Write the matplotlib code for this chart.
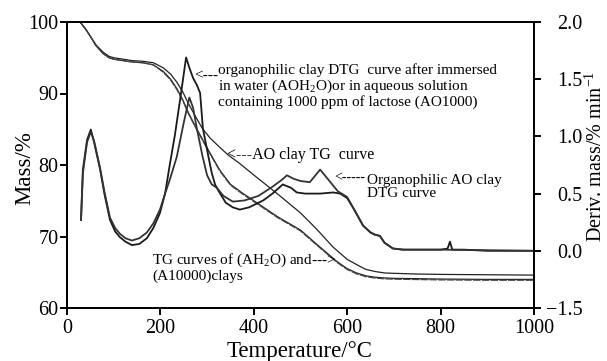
import matplotlib
matplotlib.use('Agg')
import matplotlib.pyplot as plt

plt.rcParams['font.family'] = ['Liberation Serif', 'DejaVu Serif']
plt.rcParams['mathtext.fontset'] = 'custom'
plt.rcParams['mathtext.rm'] = 'Liberation Serif'

# TG curves (mass %, left axis)
tg_ao_t = [28, 40, 50, 62, 77, 90, 100, 120, 140, 163, 185, 206, 222, 235, 248, 260, 275, 290, 306,
           325, 345, 370, 400, 450, 500, 535, 570, 600, 625, 640, 660, 680, 700, 750, 800, 900, 1000]
tg_ao_m = [100, 99.0, 98.0, 96.8, 95.8, 95.2, 95.0, 94.8, 94.6, 94.5, 94.3, 93.6, 92.7, 91.6, 90.2,
           88.6, 86.8, 85.1, 83.8, 82.6, 81.4, 80.2, 78.6, 76.0, 73.3, 71.0, 68.5, 66.8, 65.9, 65.4,
           65.1, 64.9, 64.85, 64.75, 64.7, 64.65, 64.6]

tg_ah2o_t = [28, 40, 50, 62, 77, 90, 100, 120, 140, 163, 185, 206, 222, 235, 248, 260, 275, 290, 306,
             327, 350, 375, 400, 450, 500, 535, 578, 600, 620, 640, 660, 680, 700, 750, 800, 900, 1000]
tg_ah2o_m = [100, 99.0, 98.0, 96.7, 95.6, 95.0, 94.8, 94.6, 94.4, 94.3, 94.0, 93.1, 92.0, 90.7, 89.1,
             87.3, 85.4, 83.6, 81.7, 79.3, 77.3, 76.1, 75.0, 72.8, 70.9, 68.9, 66.5, 65.5, 64.9, 64.5,
             64.3, 64.2, 64.15, 64.1, 64.05, 64.0, 64.0]
tg_a10000_m = [m - 0.12 if m < 94 else m for m in tg_ah2o_m]

# DTG curves (deriv. mass, right axis)
dtg1_t = [30, 34, 43, 51, 58, 65, 71, 80, 92, 103, 113, 125, 139, 155, 171, 185, 199, 210, 220, 231,
          245, 255, 262, 270, 278, 285, 291, 302, 310, 317, 325, 340, 355, 370, 390, 420, 440, 462,
          480, 492, 510, 542, 570, 585, 600, 615, 634, 650, 660, 670, 680, 698, 720, 800, 815, 820,
          825, 850, 900, 1000]
dtg1_d = [0.27, 0.71, 0.97, 1.06, 0.95, 0.82, 0.71, 0.50, 0.27, 0.17, 0.12, 0.08, 0.05, 0.06, 0.11,
          0.20, 0.33, 0.50, 0.75, 1.01, 1.40, 1.69, 1.60, 1.51, 1.45, 1.38, 1.07, 0.84, 0.68, 0.58,
          0.52, 0.42, 0.38, 0.36, 0.38, 0.44, 0.50, 0.58, 0.55, 0.51, 0.50, 0.50, 0.51, 0.50, 0.46,
          0.36, 0.22, 0.16, 0.14, 0.13, 0.07, 0.02, 0.01, 0.01, 0.02, 0.08, 0.01, 0.01, 0.0, 0.0]

dtg2_t = [30, 34, 43, 51, 58, 65, 71, 80, 92, 103, 113, 125, 139, 155, 171, 185, 199, 210, 220, 235,
          250, 262, 270, 278, 290, 300, 310, 321, 335, 355, 380, 410, 440, 460, 471, 485, 500, 520,
          530, 542, 560, 580, 600, 615, 634, 650, 660, 670, 680, 698, 720, 800, 1000]
dtg2_d = [0.27, 0.68, 0.95, 1.04, 0.96, 0.83, 0.72, 0.52, 0.29, 0.20, 0.15, 0.11, 0.09, 0.11, 0.16,
          0.24, 0.36, 0.50, 0.62, 0.82, 1.12, 1.34, 1.25, 1.07, 0.83, 0.66, 0.58, 0.55, 0.48, 0.43,
          0.44, 0.48, 0.56, 0.62, 0.66, 0.63, 0.61, 0.60, 0.65, 0.71, 0.62, 0.52, 0.47, 0.36, 0.22,
          0.16, 0.14, 0.13, 0.07, 0.02, 0.01, 0.01, 0.0]

x_ticks = [0, 200, 400, 600, 800, 1000]
mass_ticks = [60, 70, 80, 90, 100]
deriv_ticks = [-0.5, 0.0, 0.5, 1.0, 1.5, 2.0]
deriv_labels = ['\u22121.5', '0.0', '0.5', '1.0', '1.5', '2.0']

W, H = 607, 361
fig = plt.figure(figsize=(W / 100, H / 100), dpi=100)
ax = fig.add_axes([67 / W, 1 - 308 / H, (534 - 67) / W, (308 - 22) / H])
ax2 = ax.twinx()

ax.plot(tg_ao_t, tg_ao_m, color='#222222', lw=0.9)
ax.plot(tg_ah2o_t, tg_ah2o_m, color='#222222', lw=0.9)
ax.plot(tg_ah2o_t, tg_a10000_m, color='#444444', lw=0.9, ls=(0, (6, 1)))
ax2.plot(dtg1_t, dtg1_d, color='#1a1a1a', lw=1.3)
ax2.plot(dtg2_t, dtg2_d, color='#333333', lw=1.3)

ax.set_xlim(0, 1000)
ax.set_ylim(60, 100)
ax2.set_ylim(-0.5, 2.0)
ax.set_xticks(x_ticks)
ax.set_yticks(mass_ticks)
ax2.set_yticks(deriv_ticks)
ax2.set_yticklabels(deriv_labels)

for a in (ax, ax2):
    for s in a.spines.values():
        s.set_linewidth(1.4)
    a.tick_params(direction='out', length=5, width=1.4, labelsize=14.5)
ax.tick_params(axis='y', pad=1)
ax.tick_params(axis='x', pad=3)
ax2.tick_params(axis='y', pad=30)
for lab in ax2.get_yticklabels():
    lab.set_horizontalalignment('right')

fig.text(25 / W, 1 - 168 / H, 'Mass/%', rotation=90, ha='center', va='center', fontsize=16.5)
fig.text(300 / W, 1 - 351 / H, 'Temperature/\u00b0C', ha='center', va='center', fontsize=16.5)
fig.text(596 / W, 1 - 156 / H, 'Deriv. mass/% min$^{\\mathregular{\u2212}1}$', rotation=90,
         ha='center', va='center', fontsize=14.5)

fs = 11
fig.text(194 / W, 1 - 76 / H, '<---', ha='left', va='center', fontsize=fs)
fig.text(218 / W, 1 - 86 / H,
         'organophilic clay DTG  curve after immersed\nin water (AOH$_2$O)or in aqueous solution\n'
         'containing 1000 ppm of lactose (AO1000)',
         ha='left', va='center', fontsize=fs, linespacing=1.0)
fig.text(227 / W, 1 - 155 / H, '<---AO clay TG  curve', ha='left', va='center', fontsize=11.5)
fig.text(334 / W, 1 - 178 / H, '<-----', ha='left', va='center', fontsize=10)
fig.text(367 / W, 1 - 187 / H, 'Organophilic AO clay\nDTG curve',
         ha='left', va='center', fontsize=fs, linespacing=1.05)
fig.text(152 / W, 1 - 267 / H, 'TG curves of (AH$_2$O) and--->\n(A10000)clays',
         ha='left', va='center', fontsize=fs, linespacing=1.05)

fig.savefig('out.png', dpi=100)
